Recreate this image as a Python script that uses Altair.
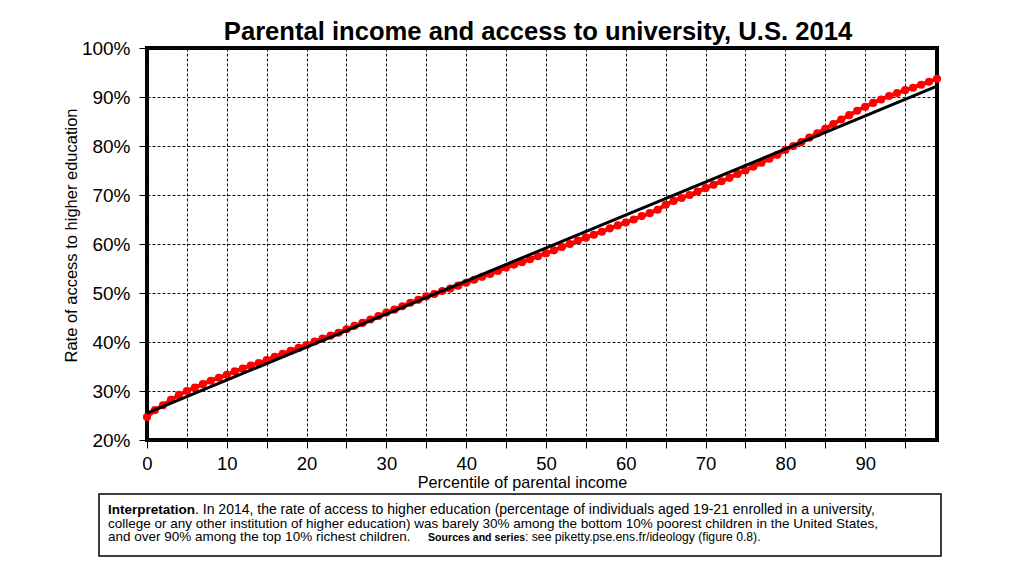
import altair as alt
import pandas as pd

# ---- data ----
percentile = list(range(100))
access_rate = [24.7, 26.1, 27.1, 28.2, 29.2, 30.0, 30.7, 31.4, 32.1, 32.7,
               33.3, 34.0, 34.6, 35.2, 35.7, 36.3, 37.0, 37.6, 38.2, 38.8,
               39.4, 40.1, 40.7, 41.3, 41.9, 42.6, 43.3, 43.9, 44.6, 45.3,
               46.0, 46.6, 47.3, 48.0, 48.6, 49.3, 49.8, 50.4, 50.9, 51.5,
               52.1, 52.7, 53.3, 53.9, 54.5, 55.2, 55.8, 56.3, 56.9, 57.5,
               58.1, 58.7, 59.4, 60.0, 60.7, 61.3, 61.9, 62.5, 63.2, 63.8,
               64.4, 65.0, 65.7, 66.3, 67.0, 68.0, 68.8, 69.4, 70.0, 70.7,
               71.4, 72.1, 72.8, 73.5, 74.3, 75.0, 75.8, 76.6, 77.4, 78.2,
               79.2, 80.0, 80.8, 81.7, 82.6, 83.5, 84.5, 85.4, 86.3, 87.2,
               88.0, 88.8, 89.5, 90.2, 90.8, 91.4, 91.9, 92.5, 93.1, 93.7]
fit_percentile = [0, 99]
fit_rate = [25.5, 92.2]
x_ticks = list(range(0, 100, 5))
y_ticks = list(range(20, 101, 10))

title_text = "Parental income and access to university, U.S. 2014"
x_title = "Percentile of parental income"
y_title = "Rate of access to higher education"
note_bold1 = "Interpretation"
note_line1 = ". In 2014, the rate of access to higher education (percentage of individuals aged 19-21 enrolled in a university,"
note_line2 = "college or any other institution of higher education) was barely 30% among the bottom 10% poorest children in the United States,"
note_line3 = "and over 90% among the top 10% richest children."
note_bold3 = "Sources and series"
note_tail3 = ": see piketty.pse.ens.fr/ideology (figure 0.8)."

FONT = "Liberation Sans"

df = pd.DataFrame({"percentile": percentile, "rate": access_rate})
fit = pd.DataFrame({"percentile": fit_percentile, "rate": fit_rate})
one = pd.DataFrame({"k": [0]})

xenc = alt.X(
    "percentile:Q",
    scale=alt.Scale(domain=[0, 99], nice=False, zero=False),
    axis=alt.Axis(
        values=x_ticks,
        labelExpr="datum.value % 10 == 0 ? datum.value : ''",
        title=x_title,
        titleX=375, titleY=42,
        titleFontSize=16.2, titleFontWeight="normal", titleFont=FONT,
        titleColor="black", titleBaseline="middle",
        labelFontSize=18.5, labelFont=FONT, labelColor="black",
        labelPadding=6, labelFlush=False, labelOverlap=False,
        tickSize=8, tickColor="black", tickWidth=1,
        grid=True, gridColor="#111", gridDash=[3, 2], gridWidth=1,
        domain=False,
    ),
)
yenc = alt.Y(
    "rate:Q",
    scale=alt.Scale(domain=[20, 100], nice=False, zero=False),
    axis=alt.Axis(
        values=y_ticks,
        labelExpr="datum.value + '%'",
        title=y_title,
        titleX=-76, titleY=187, titleAngle=270,
        titleFontSize=16.5, titleFontWeight="normal", titleFont=FONT,
        titleColor="black", titleBaseline="middle", titleAlign="center",
        labelFontSize=19, labelFont=FONT, labelColor="black",
        labelPadding=9, labelFlush=False, labelOverlap=False,
        tickSize=8, tickColor="black", tickWidth=1,
        grid=True, gridColor="#111", gridDash=[3, 2], gridWidth=1,
        domain=False,
    ),
)

base = alt.Chart(df)
red_line = base.mark_line(color="#ff0000", strokeWidth=4).encode(x=xenc, y=yenc)
red_pts = base.mark_circle(color="#ff0000", size=66, opacity=1).encode(
    x="percentile:Q", y="rate:Q")
black_line = alt.Chart(fit).mark_line(color="black", strokeWidth=3).encode(
    x="percentile:Q", y="rate:Q")


def txt(text, x, y, size, weight="normal", align="left", baseline="alphabetic"):
    return alt.Chart(one).mark_text(
        text=text, font=FONT, fontSize=size, fontWeight=weight,
        align=align, baseline=baseline, color="black",
    ).encode(x=alt.value(x), y=alt.value(y))


title = txt(title_text, 391, -16, 25.6, weight="bold", align="center", baseline="middle")
box = alt.Chart(one).mark_rect(fill="white", stroke="black", strokeWidth=1.5).encode(
    x=alt.value(-48), x2=alt.value(794), y=alt.value(446), y2=alt.value(508))

notes = [
    txt(note_bold1, -39, 466, 13.5, weight="bold"),
    txt(note_line1, 48, 466, 14),
    txt(note_line2, -39, 479.5, 13.5),
    txt(note_line3, -39, 493, 13.5),
    txt(note_bold3, 281, 493, 10.6, weight="bold"),
    txt(note_tail3, 378, 493, 12.2),
]

chart = alt.layer(red_line, red_pts, black_line, title, box, *notes).properties(
    width=790, height=392,
    autosize=alt.AutoSizeParams(type="none"),
    padding={"left": 139, "top": 40, "right": 70, "bottom": 120},
).configure_view(stroke="black", strokeWidth=4)

chart.save("out.html", embed_options={"renderer": "svg", "actions": False})
